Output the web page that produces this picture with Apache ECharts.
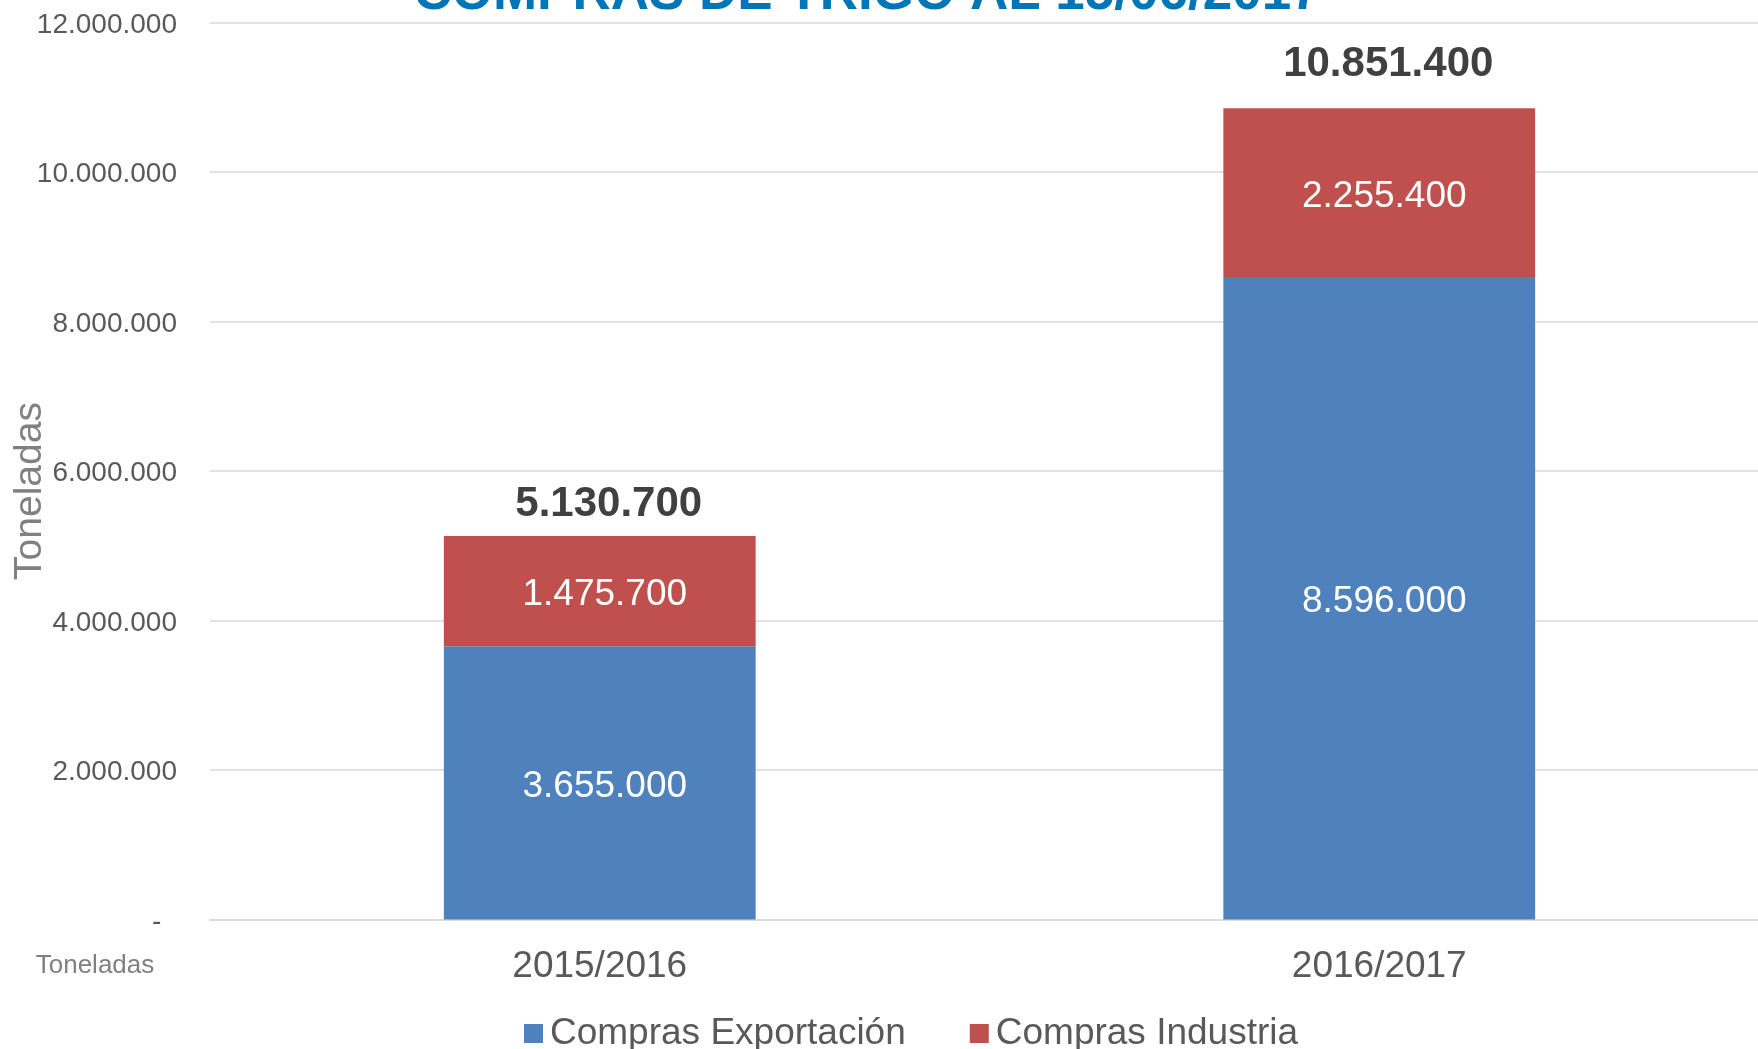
<!DOCTYPE html>
<html>
<head>
<meta charset="utf-8">
<style>html,body{margin:0;padding:0;background:#fff;overflow:hidden;}#c{width:1770px;height:1049px;}</style>
<script src="https://cdn.jsdelivr.net/npm/echarts@6/dist/echarts.min.js"></script>
</head>
<body>
<div id="c"></div>
<script>
const categories = ['2015/2016', '2016/2017'];
const exportacion = [3655000, 8596000];
const industria = [1475700, 2255400];
const seriesNames = ['Compras Exportación', 'Compras Industria'];
const titleText = 'COMPRAS DE TRIGO AL 15/06/2017';
const axisName = 'Toneladas';

const totals = categories.map((c, i) => exportacion[i] + industria[i]);
const fmt = v => String(Math.round(v)).replace(/\B(?=(\d{3})+(?!\d))/g, '.');
const FONT = '"Liberation Sans", Arial, sans-serif';
const totalGaps = [11, 23];

const chart = echarts.init(document.getElementById('c'), null, {renderer: 'canvas'});
chart.setOption({
  animation: false,
  backgroundColor: '#ffffff',
  textStyle: {fontFamily: FONT},
  title: {
    text: titleText,
    left: 862, textAlign: 'center',
    top: -37,
    textStyle: {color: '#0076B6', fontSize: 53, fontWeight: 'bold', fontFamily: FONT}
  },
  grid: {left: 210, right: 1, top: 22.4, height: 897.1, containLabel: false},
  legend: {
    data: seriesNames,
    left: 519, top: 1010,
    itemWidth: 19, itemHeight: 19, itemGap: 64,
    icon: 'rect',
    textStyle: {color: '#595959', fontSize: 37, fontFamily: FONT, padding: [0, 0, 0, 2]}
  },
  xAxis: {
    type: 'category',
    data: categories,
    axisLine: {lineStyle: {color: '#d9d9d9', width: 1.5}},
    axisTick: {show: false},
    axisLabel: {color: '#595959', fontSize: 37, margin: 29, fontFamily: FONT}
  },
  yAxis: {
    type: 'value', min: 0, max: 12000000, interval: 2000000,
    axisLine: {show: false}, axisTick: {show: false},
    splitLine: {lineStyle: {color: '#d9d9d9', width: 1.5}},
    axisLabel: {color: '#595959', fontSize: 28, margin: 33, fontFamily: FONT,
      formatter: v => '{a|' + (v === 0 ? '-  ' : fmt(v)) + '}',
      rich: {a: {color: '#595959', fontSize: 28, fontFamily: FONT, padding: [5, 0, 0, 0]}}}
  },
  graphic: [
    {type: 'text', x: 30, y: 491, rotation: Math.PI / 2,
      style: {text: axisName, fill: '#808080', fontSize: 39, fontFamily: FONT, align: 'center', verticalAlign: 'middle'}},
    {type: 'text', x: 95, y: 966,
      style: {text: axisName, fill: '#808080', fontSize: 26, fontFamily: FONT, align: 'center', verticalAlign: 'middle'}}
  ],
  series: [
    {name: seriesNames[0], type: 'bar', stack: 'a', data: exportacion, barWidth: '40%',
      itemStyle: {color: '#4F81BD'},
      label: {show: true, position: 'inside', offset: [5, 4], color: '#ffffff', fontSize: 37, fontFamily: FONT, formatter: p => fmt(p.value)}},
    {name: seriesNames[1], type: 'bar', stack: 'a', data: industria, barWidth: '40%',
      itemStyle: {color: '#C0504D'},
      label: {show: true, position: 'inside', offset: [5, 4], color: '#ffffff', fontSize: 37, fontFamily: FONT, formatter: p => fmt(p.value)}},
    {name: 'Total', type: 'scatter', symbolSize: 0, silent: true,
      itemStyle: {opacity: 1},
      data: totals.map((t, i) => ({value: t, label: {distance: totalGaps[i]}})),
      label: {show: true, position: 'top', offset: [9, 0], color: '#404040', fontSize: 42, fontWeight: 'bold', fontFamily: FONT,
        formatter: p => fmt(p.value)}}
  ]
});
</script>
</body>
</html>
